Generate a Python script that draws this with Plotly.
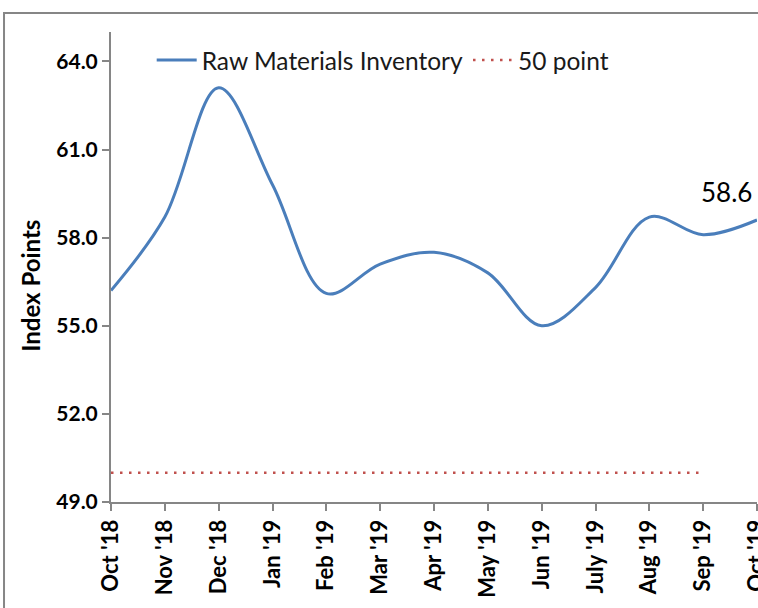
import plotly.graph_objects as go

months = ["Oct '18", "Nov '18", "Dec '18", "Jan '19", "Feb '19", "Mar '19", "Apr '19",
          "May '19", "Jun '19", "July '19", "Aug '19", "Sep '19", "Oct '19"]
raw_materials = [56.2, 58.7, 63.1, 59.8, 56.1, 57.1, 57.5, 56.8, 55.0, 56.3, 58.7, 58.1, 58.6]
fifty_months = months[:12]
fifty_point = [50] * 12
y_ticks = [49, 52, 55, 58, 61, 64]

FONT = "Lato"
AXIS_COLOR = "#868686"

fig = go.Figure()
fig.add_trace(go.Scatter(
    x=months, y=raw_materials, mode="lines", name="Raw Materials Inventory",
    line=dict(color="#4A7EBB", width=3, shape="spline", smoothing=1.0),
))
fig.add_trace(go.Scatter(
    x=fifty_months, y=fifty_point, mode="lines", name="50 point",
    line=dict(color="#C0504D", width=2.5, dash="2.5px,6.5px"),
))

fig.add_annotation(
    x=months[-1], y=raw_materials[-1], text=f"{raw_materials[-1]:.1f}",
    showarrow=False, xshift=-31, yshift=28,
    font=dict(family=FONT, size=26, color="#000000"),
)

fig.add_annotation(
    xref="paper", yref="paper", x=-0.124, y=0.46, text="<b>Index Points</b>",
    textangle=-90, showarrow=False, xanchor="center", yanchor="middle",
    font=dict(family=FONT, size=24, color="#000000"),
)

# y tick labels as annotations-free axis labels
fig.add_shape(type="rect", xref="paper", yref="paper",
              x0=-0.1656, x1=1.2, y0=-0.5, y1=1.0404,
              line=dict(color=AXIS_COLOR, width=2), fillcolor="rgba(0,0,0,0)")

fig.update_layout(
    width=758, height=608,
    margin=dict(l=111, r=1, t=32, b=106),
    paper_bgcolor="white", plot_bgcolor="white",
    showlegend=True,
    legend=dict(orientation="h", x=0.063, y=0.988, xanchor="left", yanchor="top",
                font=dict(family=FONT, size=24.5, color="#1a1a1a"),
                bgcolor="rgba(0,0,0,0)", itemwidth=40, tracegroupgap=0),
    xaxis=dict(
        type="category", range=[0, 12], showgrid=False, zeroline=False, automargin=False,
        showline=True, linecolor=AXIS_COLOR, linewidth=2,
        ticks="outside", ticklen=7, tickcolor=AXIS_COLOR, tickwidth=2,
        tickangle=-90, tickson="labels",
        tickfont=dict(family=FONT, size=22, color="#000000", weight="bold"),
    ),
    yaxis=dict(
        range=[49, 65], tickvals=y_ticks, ticktext=[f"{v:.1f}" for v in y_ticks],
        showgrid=False, zeroline=False, automargin=False,
        showline=True, linecolor=AXIS_COLOR, linewidth=2,
        ticks="outside", ticklen=7, tickcolor=AXIS_COLOR, tickwidth=2,
        tickfont=dict(family=FONT, size=21, color="#000000", weight="bold"),
    ),
)

fig.write_html("out.html", config={"displayModeBar": False},
               post_script="document.body.style.margin='0';")
